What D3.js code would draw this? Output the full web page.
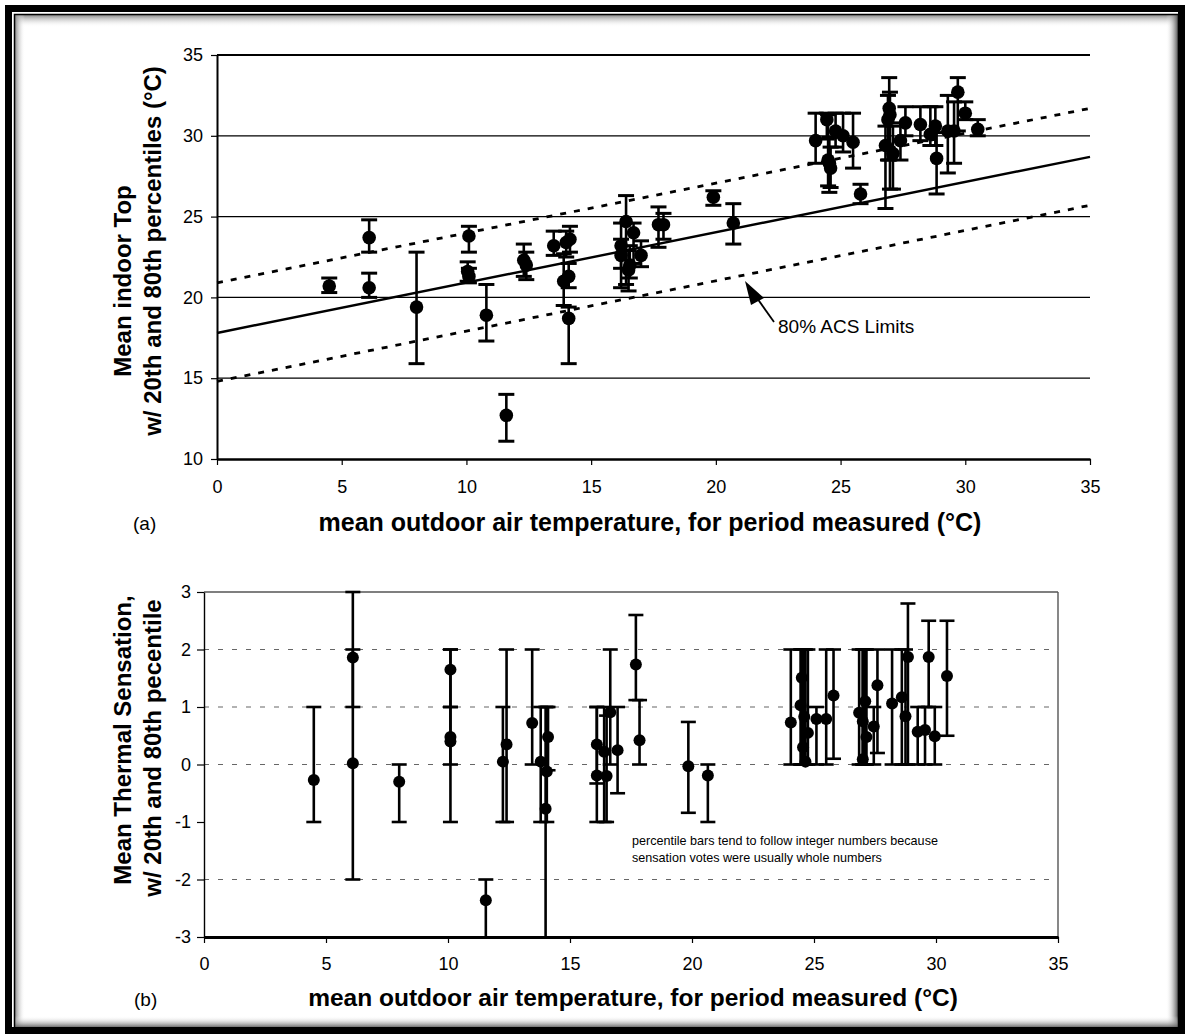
<!DOCTYPE html>
<html><head><meta charset="utf-8">
<script src="https://cdn.jsdelivr.net/npm/d3@7"></script>
<style>
body{margin:0;background:#fff}
svg{display:block}
text{font-family:"Liberation Sans",Arial,Helvetica,sans-serif;fill:#000}
</style>
</head><body>
<svg id="chart" width="1185" height="1034"></svg>
<script>
// ---------- data: panel (a) ----------
const topX    = [4.5,6.1,6.1,8.0,10.1,10.05,10.1,10.8,11.6,12.3,12.4,13.5,14.0,14.15,13.9,14.1,14.1,16.4,16.2,16.2,16.7,16.5,16.55,17.0,17.7,17.9,19.9,20.7,24.0,24.45,24.8,25.1,25.5,24.5,24.6,24.55,25.8,26.95,26.98,26.9,26.8,27.1,27.4,27.6,28.2,28.6,28.8,28.85,29.3,29.55,29.7,30.0,30.5];
const topMean = [20.7,23.7,20.6,19.4,23.8,21.6,21.3,18.9,12.7,22.3,22.0,23.2,23.4,23.6,21.0,21.3,18.7,24.7,23.2,22.6,24.0,21.7,22.0,22.6,24.5,24.5,26.2,24.6,29.7,31.0,30.3,30.0,29.6,28.5,28.0,28.3,26.4,31.7,31.3,31.0,29.4,28.9,29.7,30.8,30.7,30.1,30.6,28.6,30.3,30.3,32.7,31.4,30.4];
const topP20  = [20.3,22.8,20.0,15.9,22.8,21.0,20.9,17.3,11.1,21.3,21.1,22.6,22.5,22.8,19.5,20.6,15.9,20.8,21.8,20.6,22.1,20.4,21.2,21.9,23.1,23.6,25.7,23.3,28.3,29.8,29.3,29.0,28.0,26.9,26.8,26.5,25.8,28.5,26.7,28.5,25.5,26.7,28.5,30.0,29.7,29.4,29.4,26.4,27.7,28.3,30.3,31.0,30.0];
const topP80  = [21.2,24.8,21.5,22.8,24.4,22.2,21.8,20.8,14.0,23.3,22.8,24.1,24.1,24.4,22.7,22.1,19.4,26.3,24.6,23.6,24.6,22.9,23.2,23.5,25.6,25.2,26.6,25.8,31.4,31.4,31.4,31.4,31.4,31.3,29.3,29.9,27.0,33.6,32.7,32.5,30.6,30.6,30.8,31.8,31.8,31.8,31.8,30.2,32.5,32.1,33.6,32.1,31.0];

// adaptive comfort line and 80% limits (x endpoints and y values)
const acsX     = [0, 35];
const acsMid   = [17.8, 28.7];
const acsUpper = [20.9, 31.7];
const acsLower = [14.8, 25.7];

// ---------- data: panel (b) ----------
const botX    = [4.5,6.1,6.1,8.0,10.1,10.1,10.1,11.55,12.25,12.4,13.45,13.8,14.05,14.1,14.0,16.1,16.1,16.4,16.5,16.65,16.95,17.7,17.85,19.85,20.65,24.05,24.5,24.45,24.6,24.75,24.55,24.65,25.1,25.5,25.8,26.85,27.1,27.0,27.15,27.0,27.45,27.6,28.2,28.6,28.75,28.85,29.25,29.55,29.7,29.95,30.45];
const botMean = [-0.27,1.86,0.02,-0.3,1.65,0.48,0.4,-2.36,0.05,0.35,0.72,0.05,-0.12,0.48,-0.77,0.35,-0.19,0.22,-0.2,0.91,0.25,1.74,0.42,-0.03,-0.19,0.73,1.51,1.03,0.83,0.55,0.30,0.05,0.79,0.79,1.2,0.9,1.1,0.75,0.48,0.09,0.66,1.38,1.06,1.17,0.84,1.87,0.57,0.6,1.87,0.49,1.54];
const botP20  = [-1,1,-2,-1,1,0,-1,-3,-1,-1,0,-1,-1,-0.1,-3,-0.33,-1,-1,-1,0,-0.5,1.12,0,-0.84,-1,0,0,0,0,0,0,0,0,0,0.1,0,0,0,0,0,0,0.2,0,0,0,0,0,0,1,0,0.5];
const botP80  = [1,3,2,0,2,2,1,-2,1,2,2,1,1,1,1,1,1,1,0.85,2,1,2.6,1.12,0.74,0,2,2,2,2,2,2,2,1,2,2,2,2,2,2,2,1,2,2,2,2,2.8,1,1,2.5,1,2.5];

// ---------- ticks / labels ----------
const xTicks     = [0,5,10,15,20,25,30,35];
const topYTicks  = [10,15,20,25,30,35];
const topGrid    = [15,20,25,30];
const botYTicks  = [-3,-2,-1,0,1,2,3];
const botGrid    = [2,1,0,-2];
const xTitle     = "mean outdoor air temperature, for period measured (°C)";
const topYTitle  = ["Mean indoor Top", "w/ 20th and 80th percentiles (°C)"];
const botYTitle  = ["Mean Thermal Sensation,", "w/ 20th and 80th pecentile"];
const noteLines  = ["percentile bars tend to follow integer numbers because", "sensation votes were usually whole numbers"];
const annotation = "80% ACS Limits";

const svg = d3.select("#chart");
const W = 1185, H = 1034;
const plainFmt = d => String(d);

// ---------- frame ----------
const defs = svg.append("defs");
function grad(id, x1,y1,x2,y2, dark){
  const g = defs.append("linearGradient").attr("id",id)
    .attr("x1",x1).attr("y1",y1).attr("x2",x2).attr("y2",y2);
  g.append("stop").attr("offset","0%").attr("stop-color",dark);
  g.append("stop").attr("offset","100%").attr("stop-color","#fff").attr("stop-opacity",0);
}
grad("gT","0","0","0","1","#8a8a8a");
grad("gL","0","0","1","0","#8a8a8a");
grad("gR","1","0","0","0","#555");
grad("gB","0","1","0","0","#555");
svg.append("rect").attr("x",0).attr("y",0).attr("width",W).attr("height",H).attr("fill","#fff");
svg.append("rect").attr("x",15).attr("y",15).attr("width",1163).attr("height",12).attr("fill","url(#gT)");
svg.append("rect").attr("x",15).attr("y",15).attr("width",10).attr("height",1013).attr("fill","url(#gL)");
svg.append("rect").attr("x",1166).attr("y",15).attr("width",12).attr("height",1013).attr("fill","url(#gR)");
svg.append("rect").attr("x",15).attr("y",1016).attr("width",1163).attr("height",12).attr("fill","url(#gB)");
svg.append("rect").attr("x",8.5).attr("y",8.5).attr("width",1173).attr("height",1022)
  .attr("fill","none").attr("stroke","#000").attr("stroke-width",7);
svg.append("rect").attr("x",14.5).attr("y",14.5).attr("width",1164).attr("height",1014)
  .attr("fill","none").attr("stroke","#000").attr("stroke-width",1.5);

// ---------- panel (a) ----------
const xT = d3.scaleLinear().domain([0,35]).range([217,1090]);
const yT = d3.scaleLinear().domain([10,35]).range([459,55]);
const gA = svg.append("g");

gA.selectAll("line.grid").data(topGrid).join("line")
  .attr("x1",xT(0)).attr("x2",xT(35)).attr("y1",d=>yT(d)).attr("y2",d=>yT(d))
  .attr("stroke","#000").attr("stroke-width",1.2);
gA.append("line").attr("x1",xT(0)).attr("x2",xT(35)).attr("y1",yT(35)).attr("y2",yT(35))
  .attr("stroke","#000").attr("stroke-width",2.2);

const axTB = gA.append("g").attr("transform",`translate(0,${yT(10)})`)
  .call(d3.axisBottom(xT).tickValues(xTicks).tickFormat(plainFmt).tickSize(6).tickSizeOuter(0).tickPadding(15));
const axTL = gA.append("g").attr("transform",`translate(${xT(0)},0)`)
  .call(d3.axisLeft(yT).tickValues(topYTicks).tickFormat(plainFmt).tickSize(6).tickSizeOuter(0).tickPadding(8));
axTB.select(".domain").attr("stroke","#000").attr("stroke-width",2.5);
axTL.select(".domain").attr("stroke","#000").attr("stroke-width",2);
[axTB,axTL].forEach(a=>{
  a.selectAll(".tick line").attr("stroke","#000").attr("stroke-width",1.2);
  a.selectAll(".tick text").style("font-size","18px").style("font-family","'Liberation Sans',Arial,sans-serif").attr("fill","#000");
});

const lineGen = d3.line().x(d=>xT(d[0])).y(d=>yT(d[1]));
gA.append("path").attr("d",lineGen(acsX.map((x,i)=>[x,acsMid[i]])))
  .attr("fill","none").attr("stroke","#000").attr("stroke-width",2.4);
[acsUpper,acsLower].forEach(arr=>{
  gA.append("path").attr("d",lineGen(acsX.map((x,i)=>[x,arr[i]])))
    .attr("fill","none").attr("stroke","#000").attr("stroke-width",2.8).attr("stroke-dasharray","6,8");
});

const topData = topX.map((x,i)=>({x, m:topMean[i], lo:topP20[i], hi:topP80[i]}));
const eb = gA.append("g");
eb.selectAll("line.v").data(topData).join("line")
  .attr("x1",d=>xT(d.x)).attr("x2",d=>xT(d.x)).attr("y1",d=>yT(d.lo)).attr("y2",d=>yT(d.hi))
  .attr("stroke","#000").attr("stroke-width",2.6);
["lo","hi"].forEach(k=>{
  eb.selectAll("line.c"+k).data(topData).join("line")
    .attr("x1",d=>xT(d.x)-8).attr("x2",d=>xT(d.x)+8).attr("y1",d=>yT(d[k])).attr("y2",d=>yT(d[k]))
    .attr("stroke","#000").attr("stroke-width",3);
});
gA.selectAll("circle").data(topData).join("circle")
  .attr("cx",d=>xT(d.x)).attr("cy",d=>yT(d.m)).attr("r",6.8).attr("fill","#000");

// annotation arrow
const tip = [745, 281], tail = [774, 322];
gA.append("line").attr("x1",tail[0]).attr("y1",tail[1]).attr("x2",752).attr("y2",291)
  .attr("stroke","#000").attr("stroke-width",1.8);
gA.append("path").attr("d",`M${tip[0]},${tip[1]} L${tip[0]+19},${tip[1]+17} L${tip[0]+6},${tip[1]+24} Z`).attr("fill","#000");
gA.append("text").attr("x",778).attr("y",333).style("font-size","19px").text(annotation);

gA.append("text").attr("x",650).attr("y",531).attr("text-anchor","middle")
  .style("font-size","25px").style("font-weight","bold").text(xTitle);
gA.append("text").attr("x",133).attr("y",530).style("font-size","19px").text("(a)");
gA.append("text").attr("transform","translate(131,281) rotate(-90)").attr("text-anchor","middle")
  .style("font-size","24px").style("font-weight","bold").text(topYTitle[0]);
gA.append("text").attr("transform","translate(161,251) rotate(-90)").attr("text-anchor","middle")
  .style("font-size","24px").style("font-weight","bold").text(topYTitle[1]);

// ---------- panel (b) ----------
const xB = d3.scaleLinear().domain([0,35]).range([204,1058]);
const yB = d3.scaleLinear().domain([-3,3]).range([937,592]);
const gB = svg.append("g");

gB.selectAll("line.grid").data(botGrid).join("line")
  .attr("x1",xB(0)).attr("x2",xB(35)).attr("y1",d=>yB(d)).attr("y2",d=>yB(d))
  .attr("stroke","#666").attr("stroke-width",1.2).attr("stroke-dasharray","5,9");
gB.append("line").attr("x1",xB(0)).attr("x2",xB(35)).attr("y1",yB(3)).attr("y2",yB(3))
  .attr("stroke","#555").attr("stroke-width",1.4);
gB.append("line").attr("x1",xB(35)).attr("x2",xB(35)).attr("y1",yB(3)).attr("y2",yB(-3))
  .attr("stroke","#555").attr("stroke-width",1.4);

const axBB = gB.append("g").attr("transform",`translate(0,${yB(-3)})`)
  .call(d3.axisBottom(xB).tickValues(xTicks).tickFormat(plainFmt).tickSize(6).tickSizeOuter(0).tickPadding(14));
const axBL = gB.append("g").attr("transform",`translate(${xB(0)},0)`)
  .call(d3.axisLeft(yB).tickValues(botYTicks).tickFormat(plainFmt).tickSize(7).tickSizeOuter(0).tickPadding(6));
axBB.select(".domain").attr("stroke","#000").attr("stroke-width",3);
axBL.select(".domain").attr("stroke","#000").attr("stroke-width",1.4);
[axBB,axBL].forEach(a=>{
  a.selectAll(".tick line").attr("stroke","#000").attr("stroke-width",1.2);
  a.selectAll(".tick text").style("font-size","18px").style("font-family","'Liberation Sans',Arial,sans-serif").attr("fill","#000");
});

const botData = botX.map((x,i)=>({x, m:botMean[i], lo:botP20[i], hi:botP80[i]}));
const ebB = gB.append("g");
ebB.selectAll("line.v").data(botData).join("line")
  .attr("x1",d=>xB(d.x)).attr("x2",d=>xB(d.x)).attr("y1",d=>yB(d.lo)).attr("y2",d=>yB(d.hi))
  .attr("stroke","#000").attr("stroke-width",2.6);
["lo","hi"].forEach(k=>{
  ebB.selectAll("line.c"+k).data(botData.filter(d=>d[k] > -3)).join("line")
    .attr("x1",d=>xB(d.x)-7.5).attr("x2",d=>xB(d.x)+7.5).attr("y1",d=>yB(d[k])).attr("y2",d=>yB(d[k]))
    .attr("stroke","#000").attr("stroke-width",2.6);
});
gB.selectAll("circle").data(botData).join("circle")
  .attr("cx",d=>xB(d.x)).attr("cy",d=>yB(d.m)).attr("r",6).attr("fill","#000");

gB.selectAll("text.note").data(noteLines).join("text").attr("class","note")
  .attr("x",632).attr("y",(d,i)=>845+i*17).style("font-size","12.6px").text(d=>d);

gB.append("text").attr("x",633).attr("y",1006).attr("text-anchor","middle")
  .style("font-size","24.5px").style("font-weight","bold").text(xTitle);
gB.append("text").attr("x",134).attr("y",1006).style("font-size","19px").text("(b)");
gB.append("text").attr("transform","translate(131,740) rotate(-90)").attr("text-anchor","middle")
  .style("font-size","24px").style("font-weight","bold").text(botYTitle[0]);
gB.append("text").attr("transform","translate(161,748) rotate(-90)").attr("text-anchor","middle")
  .style("font-size","24px").style("font-weight","bold").text(botYTitle[1]);
</script>
</body></html>
